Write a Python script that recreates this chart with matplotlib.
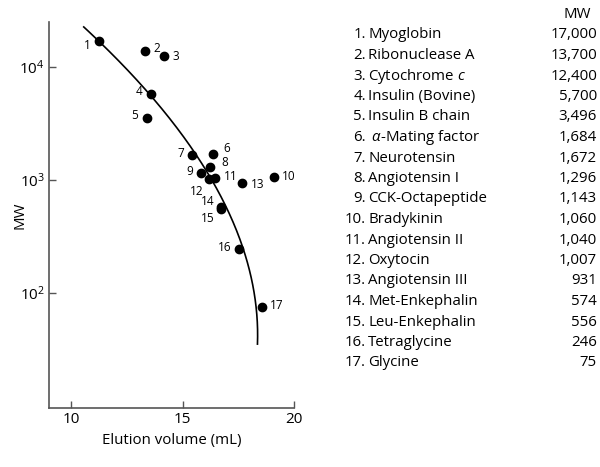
import matplotlib.pyplot as plt
import numpy as np

plt.rcParams['font.family'] = ['Open Sans', 'DejaVu Sans']
plt.rcParams['mathtext.fontset'] = 'custom'
plt.rcParams['mathtext.rm'] = 'Open Sans'
plt.rcParams['mathtext.it'] = 'Open Sans:italic'
plt.rcParams['mathtext.default'] = 'regular'

# standards: number, name, MW, elution volume (mL)
numbers = list(range(1, 18))
names = ["Myoglobin", "Ribonuclease A", "Cytochrome $\\it{c}$", "Insulin (Bovine)",
         "Insulin B chain", " $\\it{\\alpha}$-Mating factor", "Neurotensin", "Angiotensin I",
         "CCK-Octapeptide", "Bradykinin", "Angiotensin II", "Oxytocin",
         "Angiotensin III", "Met-Enkephalin", "Leu-Enkephalin", "Tetraglycine", "Glycine"]
mw = [17000, 13700, 12400, 5700, 3496, 1684, 1672, 1296, 1143, 1060,
      1040, 1007, 931, 574, 556, 246, 75]
volume = [11.26, 13.32, 14.18, 13.57, 13.38, 16.37, 15.44, 16.25, 15.84, 19.08,
          16.46, 16.18, 17.68, 16.74, 16.74, 17.55, 18.55]

# calibration curve (volume, MW)
curve_vol = [10.55, 11.35, 12.67, 13.60, 14.34, 15.26, 15.67, 16.40, 16.99, 17.63, 18.25, 18.40]
curve_mw = [22600, 16700, 8150, 5710, 3400, 1970, 1750, 1010, 580, 245, 75, 35]

# label offsets in points (dx, dy) and alignment
label_off = {1: (-6, -3, 'right'), 2: (6, 2, 'left'), 3: (6, 0, 'left'), 4: (-6, 2, 'right'),
             5: (-6, 2, 'right'), 6: (7, 4, 'left'), 7: (-6, 1, 'right'), 8: (8, 3, 'left'),
             9: (-6, 1, 'right'), 10: (6, 0, 'left'), 11: (6, 1, 'left'), 12: (-4, -9, 'right'),
             13: (6, -1, 'left'), 14: (-5, 4, 'right'), 15: (-5, -7, 'right'),
             16: (-6, 1, 'right'), 17: (6, 1, 'left')}

fig = plt.figure(figsize=(6, 4.67), dpi=100)
ax = fig.add_axes([0.0817, 0.1263, 0.4083, 0.8266])

coef = np.polyfit(np.log10(curve_mw), curve_vol, 3)
lg = np.linspace(np.log10(min(curve_mw)), np.log10(max(curve_mw)), 300)
ax.plot(np.polyval(coef, lg), 10 ** lg, color='black', lw=1.2)

ax.plot(volume, mw, 'o', color='black', markersize=6)
for n, v, m in zip(numbers, volume, mw):
    dx, dy, ha = label_off[n]
    ax.annotate(str(n), (v, m), xytext=(dx, dy), textcoords='offset points',
                ha=ha, va='center', fontsize=8.5)

ax.set_yscale('log')
ax.set_xlim(9, 20)
ax.set_ylim(9.5, 25000)
ax.set_xticks([10, 15, 20])
ax.set_yticks([100, 1000, 10000])
ax.minorticks_off()
ax.tick_params(direction='in', length=5, width=1, color='#555555', labelsize=11, pad=3)
for s in ['top', 'right']:
    ax.spines[s].set_visible(False)
for s in ['left', 'bottom']:
    ax.spines[s].set_color('#555555')
    ax.spines[s].set_linewidth(1.2)
ax.set_xlabel("Elution volume (mL)", fontsize=10.8, labelpad=4)
ax.set_ylabel("MW", fontsize=10.8, va='center')
ax.yaxis.set_label_coords(-0.118, 0.5)

# table on the right
y0 = 1 - 35 / 467
dy = 20.5 / 467
fig.text(577 / 600, 1 - 14 / 467, "MW", ha='center', va='center', fontsize=10.8)
for i, (n, name, m) in enumerate(zip(numbers, names, mw)):
    y = y0 - i * dy
    fig.text(366 / 600, y, f"{n}.", ha='right', va='center', fontsize=10.8)
    fig.text(368 / 600, y, name, ha='left', va='center', fontsize=10.8)
    fig.text(597 / 600, y, f"{m:,}", ha='right', va='center', fontsize=10.8)

fig.savefig("out.png", dpi=100)
